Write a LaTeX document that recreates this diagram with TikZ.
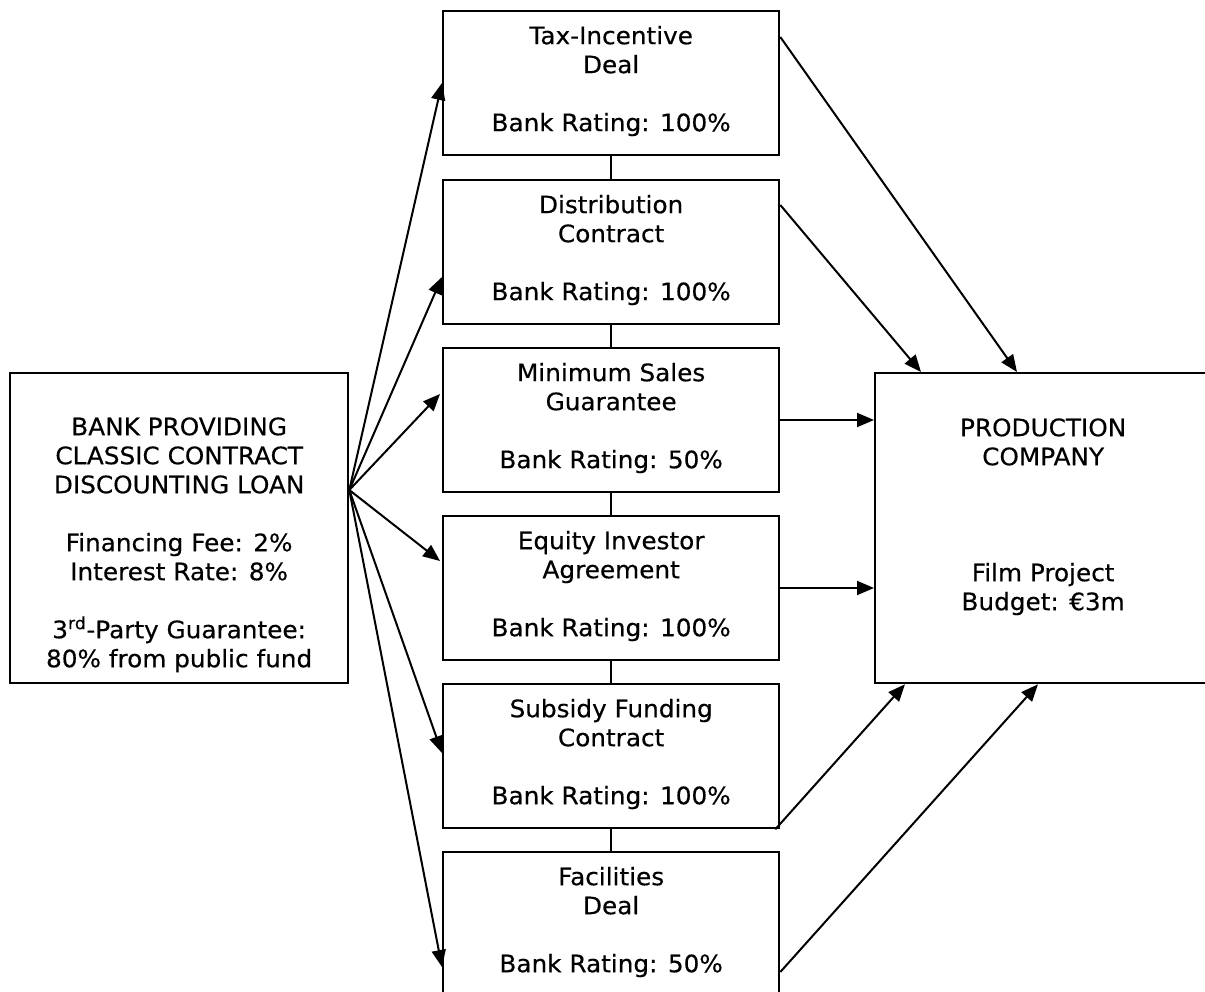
\documentclass[tikz,border=0pt]{standalone}
\usepackage{fontspec}
\setmainfont{DejaVu Sans}[FakeStretch=1.03,FakeBold=0.4]
\usetikzlibrary{arrows.meta,calc}
\newcommand\firstline{\rule{0pt}{20pt}}
\begin{document}
\begin{tikzpicture}[x=1pt,y=-1pt,
  box/.style={draw,line width=2.3pt,rectangle,inner sep=0pt,anchor=north west},
  midbox/.style={box,minimum width=336pt,minimum height=144pt},
  bigbox/.style={box,minimum width=337pt,minimum height=310pt},
  lbl/.style={anchor=north,inner sep=0pt,align=center,font=\fontsize{24}{29}\selectfont},
  link/.style={line width=2pt},
  arr/.style={line width=2pt,-{Triangle[length=17pt,width=14pt]}}]
\useasboundingbox (0,0) rectangle (1205,992);
% left: the lending bank
\node[bigbox,minimum width=338pt] (bank) at (9,372) {};
\node[lbl] (banktxt) at ($(bank.north)+(0,43)$)
  {\firstline BANK PROVIDING\\CLASSIC CONTRACT\\DISCOUNTING LOAN\\[29pt]
   Financing Fee: 2\%\\Interest Rate: 8\%\\[29pt]
   3\textsuperscript{rd}-Party Guarantee:\\80\% from public fund};
% right: the production company
\node[bigbox,minimum width=336pt] (prod) at (874,372) {};
\node[lbl] (prodtxt) at ($(prod.north)+(0,44)$)
  {\firstline PRODUCTION\\COMPANY\\[87pt]Film Project\\Budget: €3m};
% middle column: the discounted contracts
\node[midbox] (b1) at (442,10) {};
\node[midbox] (b2) at (442,179) {};
\node[midbox] (b3) at (442,347) {};
\node[midbox] (b4) at (442,515) {};
\node[midbox] (b5) at (442,683) {};
\node[midbox] (b6) at (442,851) {};
\node[lbl] (t1) at ($(b1.north)+(0,14)$) {\firstline Tax-Incentive\\Deal\\[29pt]Bank Rating: 100\%};
\node[lbl] (t2) at ($(b2.north)+(0,14)$) {\firstline Distribution\\Contract\\[29pt]Bank Rating: 100\%};
\node[lbl] (t3) at ($(b3.north)+(0,14)$) {\firstline Minimum Sales\\Guarantee\\[29pt]Bank Rating: 50\%};
\node[lbl] (t4) at ($(b4.north)+(0,14)$) {\firstline Equity Investor\\Agreement\\[29pt]Bank Rating: 100\%};
\node[lbl] (t5) at ($(b5.north)+(0,14)$) {\firstline Subsidy Funding\\Contract\\[29pt]Bank Rating: 100\%};
\node[lbl] (t6) at ($(b6.north)+(0,14)$) {\firstline Facilities\\Deal\\[29pt]Bank Rating: 50\%};
% links between stacked contracts
\foreach \a/\b in {b1/b2,b2/b3,b3/b4,b4/b5,b5/b6}
  \draw[link] (\a.south) -- (\b.north);
% fan of arrows from the bank
\coordinate (src) at ($(bank.north east)+(0,118)$);
\draw[arr] (src) -- ($(b1.north west)+(0,73)$);
\draw[arr] (src) -- ($(b2.north west)+(0,98)$);
\draw[arr] (src) -- ($(b3.north west)+(-2,47)$);
\draw[arr] (src) -- ($(b4.north west)+(-2,46)$);
\draw[arr] (src) -- ($(b5.north west)+(0,70)$);
\draw[arr] (src) -- ($(b6.north west)+(0,116)$);
% arrows into the production company
\draw[arr] ($(b1.north east)+(0,27)$) -- ($(prod.north west)+(143,0)$);
\draw[arr] ($(b2.north east)+(0,26)$) -- ($(prod.north west)+(47,0)$);
\draw[arr] ($(b3.north east)+(0,73)$) -- ($(prod.north west)+(0,48)$);
\draw[arr] ($(b4.north east)+(0,73)$) -- ($(prod.north west)+(0,216)$);
\draw[arr] ($(b5.south east)+(-5,0)$) -- ($(prod.south west)+(31,0)$);
\draw[arr] ($(b6.north east)+(0,121)$) -- ($(prod.south west)+(164,0)$);
\end{tikzpicture}
\end{document}
